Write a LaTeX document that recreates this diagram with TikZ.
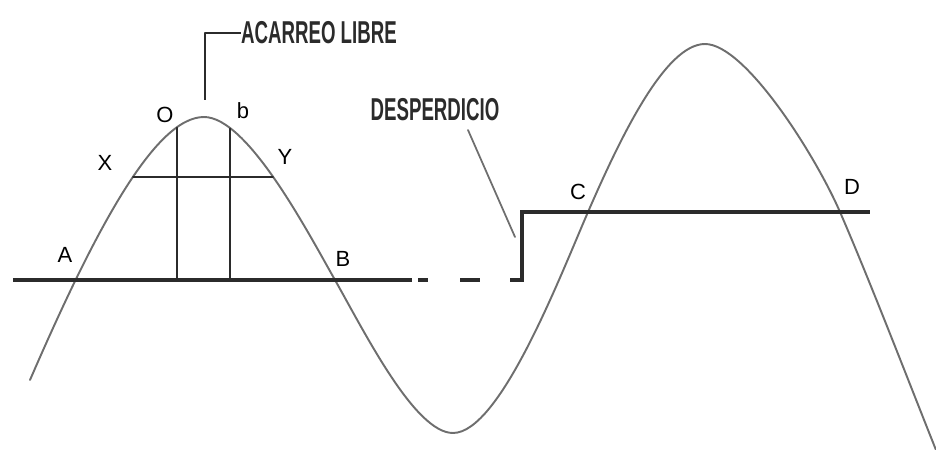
\documentclass[tikz,border=0pt]{standalone}
\usepackage{fontspec}
\setsansfont{Liberation Sans}
\usepackage{tikz}
\usetikzlibrary{arrows.meta}
\definecolor{curvegray}{HTML}{6E6E6E}
\definecolor{ink}{HTML}{2B2B2B}
\tikzset{
  every picture/.style={line join=round, line cap=round, >=Stealth},
  ground/.style={line width=2.2pt, ink, line cap=butt},
  mass/.style={line width=1.1pt, curvegray},
  guide/.style={line width=1pt, ink},
  pt/.style={font=\sffamily\fontsize{12.5}{12.5}\selectfont, inner sep=0pt},
  note/.style={font=\sffamily\bfseries\fontsize{18}{18}\selectfont, xscale=0.59, inner sep=0pt, ink},
}

\begin{document}
\begin{tikzpicture}
\useasboundingbox (0,0) rectangle (18.72,9);
% curva masa
\draw[mass] (0.6,1.4) .. controls (1.9,4.4) and (3.1,6.66) .. (4.08,6.66)
  .. controls (4.95,6.66) and (6.15,4.37) .. (6.7,3.4)
  .. controls (7.3,2.34) and (8.3,0.34) .. (9.06,0.34)
  .. controls (10.0,0.34) and (11.2,3.47) .. (11.76,4.76)
  .. controls (12.4,6.23) and (13.3,8.12) .. (14.1,8.12)
  .. controls (14.9,8.12) and (16.3,5.91) .. (16.8,4.76)
  .. controls (17.4,3.38) and (18.2,1.3) .. (18.72,0);
% lineas compensadoras
\draw[ground] (0.26,3.4) -- (8.24,3.4);
\draw[ground] (8.36,3.4) -- (8.56,3.4);
\draw[ground] (9.2,3.4) -- (9.6,3.4);
\draw[ground, line join=miter] (10.2,3.4) -- (10.44,3.4) -- (10.44,4.76) -- (17.4,4.76);
% acarreo libre
\draw[guide] (2.66,5.46) -- (5.46,5.46);
\draw[guide] (3.54,6.45) -- (3.54,3.4);
\draw[guide] (4.6,6.43) -- (4.6,3.4);
\node (A) [pt] at (1.3,3.9) {A};
\node (X) [pt] at (2.1,5.74) {X};
\node (O) [pt] at (3.3,6.7) {O};
\node (b) [pt] at (4.86,6.78) {b};
\node (Y) [pt] at (5.7,5.86) {Y};
\node (B) [pt] at (6.86,3.82) {B};
\node (C) [pt] at (11.56,5.16) {C};
\node (D) [pt] at (17.04,5.26) {D};
\node (acarreo) [note, anchor=west] at (4.82,8.34) {ACARREO LIBRE};
\coordinate (cima) at (4.1,7.0);
\draw[guide, line cap=butt] (cima) |- (acarreo.west);
\node (desp) [note] at (8.7,6.8) {DESPERDICIO};
\coordinate (desp1) at (9.36,6.4);
\coordinate (desp2) at (10.3,4.26);
\draw[mass, line width=1pt] (desp1) -- (desp2);
\end{tikzpicture}
\end{document}
